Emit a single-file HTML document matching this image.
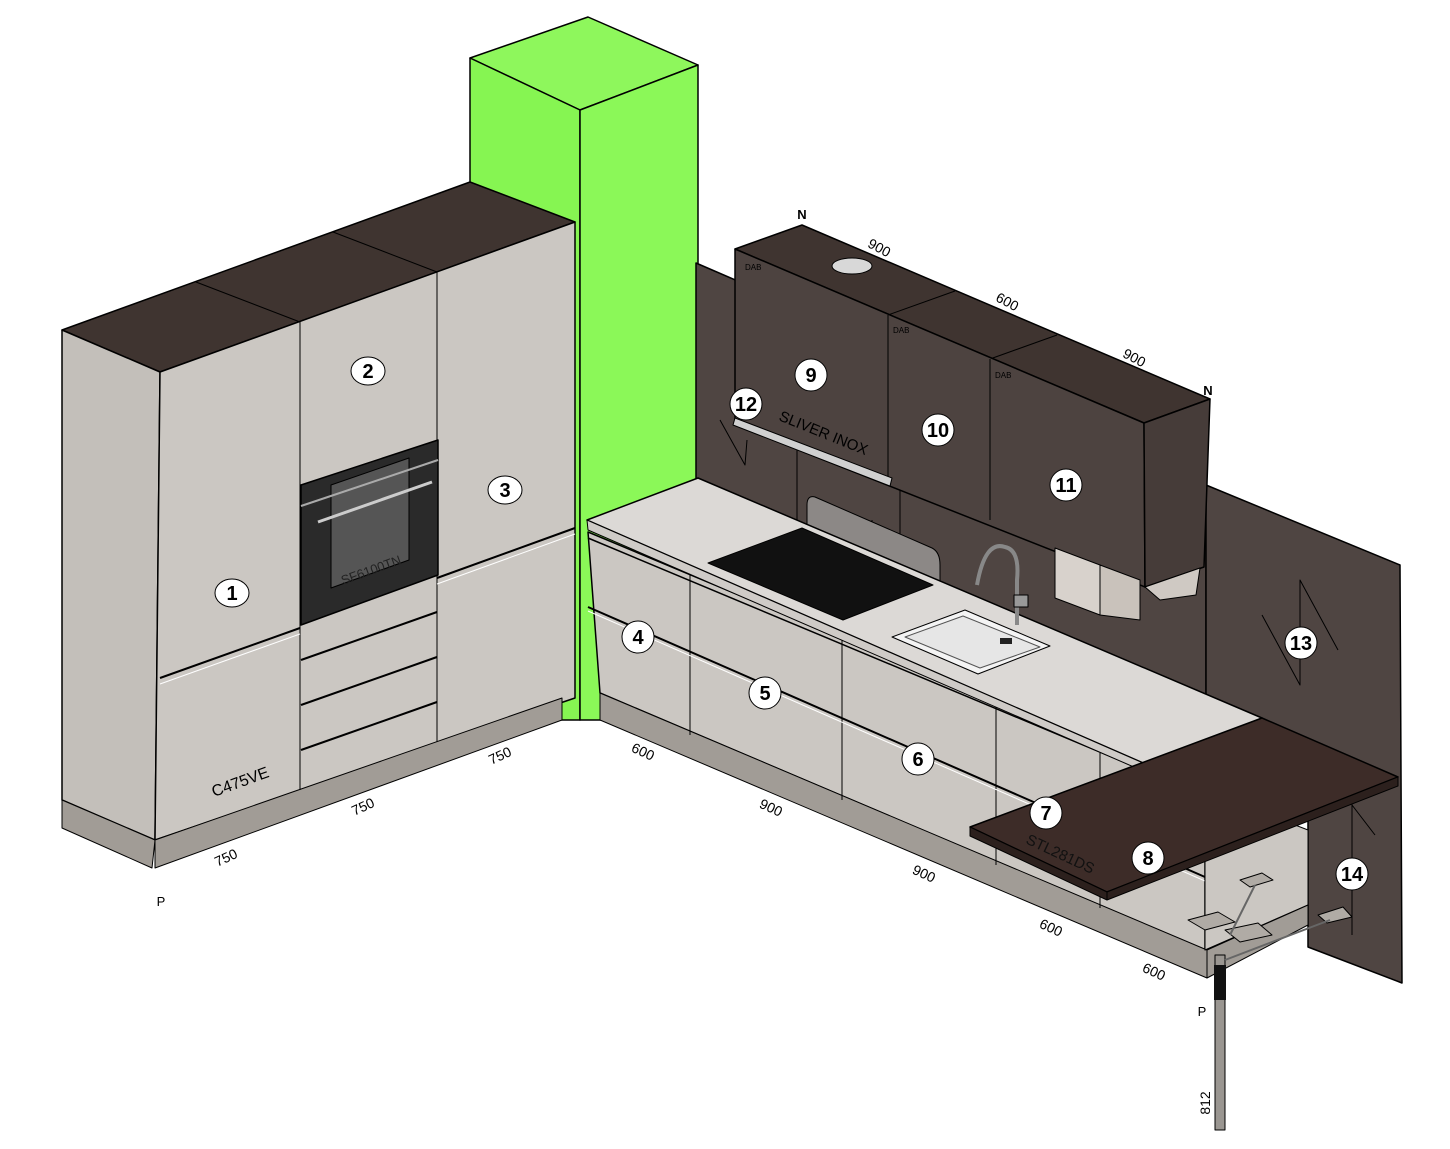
<!DOCTYPE html>
<html><head><meta charset="utf-8"><style>
html,body{margin:0;padding:0;background:#fff}
svg{display:block}
text{font-family:"Liberation Sans",sans-serif}
.n{font-size:20px;font-weight:bold;text-anchor:middle}
.d{font-size:14px;text-anchor:middle}
</style></head><body>
<svg width="1450" height="1149" viewBox="0 0 1450 1149" xmlns="http://www.w3.org/2000/svg" stroke-linejoin="round">
<rect width="1450" height="1149" fill="#fff"/>
<!-- green column -->
<polygon points="470,58 588,17 698,65 580,110" fill="#8ef75c" stroke="#000" stroke-width="1.5"/>
<polygon points="470,58 580,110 580,720 562,720 470,700" fill="#86f552" stroke="#000" stroke-width="1.5"/>
<polygon points="580,110 698,65 698,720 580,720" fill="#8bf858" stroke="#000" stroke-width="1.5"/>
<!-- back wall panel -->
<polygon points="696,263 1206,483 1206,760 696,540" fill="#4f4542" stroke="#000" stroke-width="1.5"/>
<line x1="797" y1="440" x2="797" y2="520" stroke="#000"/>
<line x1="900" y1="485" x2="900" y2="560" stroke="#000"/>
<line x1="872" y1="520" x2="872" y2="600" stroke="#000"/>
<polyline points="720,420 745,465 747,440" fill="none" stroke="#000"/>
<!-- right panel 13/14 -->
<polygon points="1206,485 1400,565 1402,983 1308,947 1308,800 1206,760" fill="#4f4542" stroke="#000" stroke-width="1.5"/>
<polyline points="1262,615 1300,685 1300,580 1338,650" fill="none" stroke="#000"/>
<polyline points="1352,805 1375,835" fill="none" stroke="#000"/>
<line x1="1352" y1="800" x2="1352" y2="935" stroke="#000"/>
<!-- splashback -->
<path d="M815,497 L932,548 Q940,552 940,565 L940,583 L807,525 L807,505 Q807,495 815,497 Z" fill="#8c8886" stroke="#000"/>
<!-- wall cabinets -->
<polygon points="735,249 802,225 1210,399 1144,423" fill="#3f3430" stroke="#000" stroke-width="1.5"/>
<line x1="888" y1="315" x2="955" y2="291" stroke="#000"/>
<line x1="990" y1="359" x2="1057" y2="335" stroke="#000"/>
<polygon points="735,249 1144,423 1145,587 735,425" fill="#4d4340" stroke="#000" stroke-width="1.5"/>
<polygon points="1144,423 1210,399 1204,567 1145,587" fill="#463c39" stroke="#000" stroke-width="1.5"/>
<line x1="888" y1="315" x2="888" y2="478" stroke="#000"/>
<line x1="990" y1="359" x2="990" y2="520" stroke="#000"/>
<ellipse cx="852" cy="266" rx="20" ry="8" fill="#d8d8d8" stroke="#000"/>
<text x="745" y="270" font-size="8">DAB</text><text x="893" y="333" font-size="8">DAB</text><text x="995" y="378" font-size="8">DAB</text>
<text x="802" y="219" font-size="13" text-anchor="middle" font-weight="bold">N</text>
<text x="1208" y="395" font-size="13" text-anchor="middle" font-weight="bold">N</text>
<text class="d" transform="translate(877,252) rotate(28)">900</text>
<text class="d" transform="translate(1005,306) rotate(28)">600</text>
<text class="d" transform="translate(1132,362) rotate(28)">900</text>
<!-- under-cabinet shelf -->
<polygon points="1055,548 1100,565 1100,615 1055,598" fill="#d8d2cc" stroke="#000"/>
<polygon points="1100,565 1140,580 1140,620 1100,615" fill="#c9c2bb" stroke="#000"/>
<polygon points="1145,587 1200,568 1196,595 1160,600" fill="#cfc9c3" stroke="#000"/>
<!-- hood -->
<polygon points="735,418 892,478 890,486 733,425" fill="#d0d0d0" stroke="#000"/>
<text transform="translate(778,420) rotate(22)" font-size="15">SLIVER INOX</text>
<!-- tall cabinets -->
<polygon points="62,330 470,182 575,222 160,372" fill="#3f3430" stroke="#000" stroke-width="1.5"/>
<line x1="196" y1="282" x2="300" y2="322" stroke="#000"/>
<line x1="333" y1="232" x2="437" y2="272" stroke="#000"/>
<polygon points="62,330 160,372 155,840 62,800" fill="#c3bfba" stroke="#000" stroke-width="1.5"/>
<polygon points="62,800 155,840 152,868 62,828" fill="#a19c96" stroke="#000"/>
<polygon points="160,372 575,222 575,698 155,840" fill="#cbc7c2" stroke="#000" stroke-width="1.5"/>
<polygon points="155,840 562,698 562,720 155,868" fill="#a19c96" stroke="#000"/>
<line x1="300" y1="322" x2="300" y2="790" stroke="#000"/>
<line x1="437" y1="272" x2="437" y2="742" stroke="#000"/>
<polyline points="160,678 300,628" fill="none" stroke="#000" stroke-width="2"/>
<polyline points="160,684 300,634" fill="none" stroke="#fff" stroke-width="1"/>
<polyline points="437,578 575,528" fill="none" stroke="#000" stroke-width="2"/>
<polyline points="437,584 575,534" fill="none" stroke="#fff" stroke-width="1"/>
<!-- oven -->
<polygon points="301,485 438,440 438,575 301,625" fill="#2a2a2a" stroke="#000" stroke-width="1.5"/>
<polygon points="331,485 409,458 409,560 331,588" fill="#555" stroke="#000"/>
<line x1="301" y1="506" x2="438" y2="460" stroke="#aaa" stroke-width="2"/>
<line x1="318" y1="522" x2="432" y2="482" stroke="#ccc" stroke-width="3"/>
<text transform="translate(343,585) rotate(-20)" font-size="13" fill="#222">SF6100TN</text>
<line x1="301" y1="660" x2="437" y2="612" stroke="#000" stroke-width="2"/>
<line x1="301" y1="705" x2="437" y2="657" stroke="#000" stroke-width="2"/>
<line x1="301" y1="750" x2="437" y2="702" stroke="#000" stroke-width="2"/>
<text transform="translate(214,797) rotate(-20)" font-size="16">C475VE</text>
<text class="d" transform="translate(228,862) rotate(-25)">750</text>
<text class="d" transform="translate(365,811) rotate(-25)">750</text>
<text class="d" transform="translate(502,760) rotate(-25)">750</text>
<text x="161" y="906" font-size="13" text-anchor="middle">P</text>
<!-- base cabinets -->
<polygon points="588,532 1205,790 1205,950 600,693" fill="#cbc7c2" stroke="#000" stroke-width="1.5"/>
<polygon points="600,693 1207,950 1207,978 600,720" fill="#a19c96" stroke="#000"/>
<line x1="690" y1="575" x2="690" y2="735" stroke="#000"/>
<line x1="842" y1="638" x2="842" y2="800" stroke="#000"/>
<line x1="996" y1="703" x2="996" y2="865" stroke="#000"/>
<line x1="1100" y1="747" x2="1100" y2="908" stroke="#000"/>
<line x1="588" y1="607" x2="1205" y2="877" stroke="#000" stroke-width="2"/>
<line x1="588" y1="611" x2="1205" y2="881" stroke="#fff" stroke-width="1"/>
<line x1="588" y1="538" x2="1205" y2="796" stroke="#000" stroke-width="1.5"/>
<!-- worktop -->
<polygon points="587,520 698,478 1262,718 1150,766" fill="#dcd9d6" stroke="#000" stroke-width="1.5"/>
<polygon points="587,520 1150,766 1150,774 588,530" fill="#cfcbc7" stroke="#000"/>
<!-- hob -->
<polygon points="708,563 802,528 933,585 843,620" fill="#111" stroke="#000"/>
<!-- sink -->
<polygon points="892,637 965,610 1050,646 978,674" fill="#f4f4f4" stroke="#000"/>
<polygon points="905,637 963,616 1040,647 980,668" fill="#e6e6e6" stroke="#555"/>
<rect x="1000" y="638" width="12" height="6" fill="#222"/>
<!-- faucet -->
<path d="M977,585 Q985,540 1005,547 Q1020,550 1017,580 L1017,625" fill="none" stroke="#888" stroke-width="4"/>
<rect x="1014" y="595" width="14" height="12" fill="#999" stroke="#000"/>
<!-- under bar area -->
<polygon points="1205,790 1308,830 1308,905 1205,950" fill="#cbc7c2" stroke="#000"/>
<polygon points="1207,950 1308,905 1308,925 1207,978" fill="#a19c96" stroke="#000"/>
<!-- bar counter -->
<polygon points="970,827 1262,718 1398,777 1107,892" fill="#3d2c28" stroke="#000" stroke-width="1.5"/>
<polygon points="970,827 1107,892 1107,900 970,836" fill="#2c201d" stroke="#000"/>
<polygon points="1107,892 1398,777 1398,786 1107,900" fill="#2c201d" stroke="#000"/>
<text transform="translate(1025,843) rotate(25)" font-size="15" fill="#111">STL281DS</text>
<!-- leg and supports -->
<rect x="1215" y="955" width="10" height="175" fill="#9a9691" stroke="#000"/>
<rect x="1214" y="965" width="12" height="35" fill="#111"/>
<polygon points="1188,920 1218,912 1235,922 1205,930" fill="#b0aba5" stroke="#000"/>
<polygon points="1225,930 1258,923 1272,935 1240,942" fill="#b0aba5" stroke="#000"/>
<polygon points="1240,880 1262,873 1273,880 1250,887" fill="#b0aba5" stroke="#000"/>
<polygon points="1318,915 1343,907 1352,917 1327,923" fill="#b0aba5" stroke="#000"/>
<line x1="1225" y1="960" x2="1330" y2="920" stroke="#666" stroke-width="2"/>
<line x1="1230" y1="935" x2="1255" y2="885" stroke="#666" stroke-width="2"/>
<text x="1202" y="1016" font-size="13" text-anchor="middle">P</text>
<text class="d" transform="translate(1210,1103) rotate(-90)">812</text>
<text class="d" transform="translate(641,756) rotate(25)">600</text>
<text class="d" transform="translate(769,812) rotate(25)">900</text>
<text class="d" transform="translate(922,878) rotate(25)">900</text>
<text class="d" transform="translate(1049,932) rotate(25)">600</text>
<text class="d" transform="translate(1152,976) rotate(25)">600</text>
<!-- number markers -->
<g fill="#fff" stroke="#000" stroke-width="1">
<ellipse cx="232" cy="593" rx="17" ry="14"/><ellipse cx="368" cy="371" rx="17" ry="14"/><ellipse cx="505" cy="490" rx="17" ry="14"/>
<circle cx="638" cy="637" r="16"/><circle cx="765" cy="693" r="16"/><circle cx="918" cy="759" r="16"/>
<circle cx="1046" cy="813" r="16"/><circle cx="1148" cy="858" r="16"/><circle cx="811" cy="375" r="16"/>
<circle cx="938" cy="430" r="16"/><circle cx="1066" cy="485" r="16"/><circle cx="746" cy="404" r="16"/>
<circle cx="1301" cy="643" r="16"/><circle cx="1352" cy="874" r="16"/>
</g>
<g class="n">
<text class="n" x="232" y="600">1</text><text class="n" x="368" y="378">2</text><text class="n" x="505" y="497">3</text>
<text class="n" x="638" y="644">4</text><text class="n" x="765" y="700">5</text><text class="n" x="918" y="766">6</text>
<text class="n" x="1046" y="820">7</text><text class="n" x="1148" y="865">8</text><text class="n" x="811" y="382">9</text>
<text class="n" x="938" y="437">10</text><text class="n" x="1066" y="492">11</text><text class="n" x="746" y="411">12</text>
<text class="n" x="1301" y="650">13</text><text class="n" x="1352" y="881">14</text>
</g>
</svg>
</body></html>
